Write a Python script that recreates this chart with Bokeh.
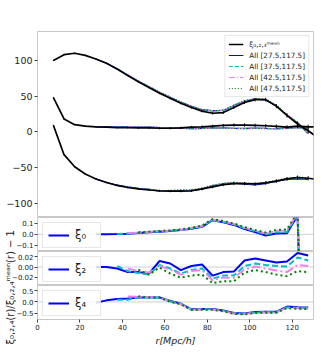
import math
from bokeh.plotting import figure
from bokeh.models import (Range1d, FixedTicker, CustomJSTickFormatter, Legend, LegendItem,
                          Span, Div)
from bokeh.layouts import column
from bokeh.embed import file_html
from bokeh.resources import INLINE

nan = float("nan")

# ---------------- data ----------------
r_mean = [7.5, 12.5, 17.5, 22.5, 27.5, 32.5, 37.5, 42.5, 47.5, 52.5, 57.5, 62.5, 67.5,
          72.5, 77.5, 82.5, 87.5, 92.5, 97.5, 102.5, 107.5, 112.5, 117.5, 122.5, 127.5, 132.5]
xi0_mean = [100, 108, 110, 107, 102, 96, 88, 79, 70, 62, 54, 47, 40, 34, 29, 26, 27, 34,
            41, 45, 45, 36, 23, 11, 1.5, -9]
xi2_mean = [9, -32, -49, -59, -66, -71, -75, -78, -80, -81.5, -82.5, -83, -83, -82.5, -80,
            -77, -74, -72.5, -72.5, -73, -71.5, -69, -66, -64, -65, -67]
xi4_mean = [48, 18, 10, 8, 7, 6.5, 6, 6, 5.5, 5.5, 5, 5, 5.5, 6.5, 7, 8, 9, 9.5, 9.5, 9,
            8.5, 7.5, 6.5, 8, 7, 7]
xi0_err = [0.8, 0.8, 0.9, 0.9, 1.0, 1.0, 1.1, 1.1, 1.2, 1.2, 1.3, 1.4, 1.5, 1.6, 1.7, 1.8,
           1.9, 2.0, 2.2, 2.4, 2.6, 2.8, 3.0, 3.2, 3.4, 3.6]
xi2_err = [0.8, 0.8, 0.9, 0.9, 1.0, 1.0, 1.1, 1.2, 1.3, 1.4, 1.5, 1.6, 1.7, 1.8, 1.9, 2.0,
           2.1, 2.2, 2.3, 2.4, 2.5, 2.6, 2.7, 2.8, 2.9, 3.0]
xi4_err = [0.8, 0.8, 0.9, 0.9, 1.0, 1.0, 1.1, 1.2, 1.3, 1.4, 1.5, 1.6, 1.7, 1.8, 1.9, 2.0,
           2.1, 2.2, 2.3, 2.4, 2.5, 2.6, 2.7, 2.8, 2.9, 3.0]

r_fit = [27.5, 32.5, 37.5, 42.5, 47.5, 52.5, 57.5, 62.5, 67.5, 72.5, 77.5, 82.5, 87.5,
         92.5, 97.5, 102.5, 107.5, 112.5, 117.5, 122.5, 127.5]

series_labels = ["All [27.5,117.5]", "All [37.5,117.5]", "All [42.5,117.5]", "All [47.5,117.5]"]

rat0_a = [0.0, 0.0, 0.002, 0.006, 0.012, 0.018, 0.024, 0.030, 0.038, 0.050, 0.068, 0.128,
          0.108, 0.085, 0.048, 0.020, -0.010, 0.008, 0.010, 0.17, -3.0]
rat0_b = [nan, nan, 0.004, 0.008, 0.014, 0.020, 0.026, 0.032, 0.040, 0.053, 0.072, 0.131,
          0.112, 0.090, 0.055, 0.028, 0.000, 0.018, 0.022, 0.18, -3.0]
rat0_c = [nan, nan, nan, 0.012, 0.016, 0.022, 0.028, 0.034, 0.042, 0.056, 0.076, 0.134,
          0.116, 0.094, 0.060, 0.034, 0.008, 0.030, 0.035, 0.19, -3.0]
rat0_d = [nan, nan, nan, nan, 0.018, 0.024, 0.030, 0.036, 0.044, 0.059, 0.080, 0.138,
          0.120, 0.098, 0.065, 0.040, 0.016, 0.040, 0.045, 0.20, -3.0]

rat2_a = [0.0, 0.0, -0.003, -0.010, -0.010, -0.013, 0.012, 0.007, -0.006, 0.002, 0.005,
          -0.017, -0.010, -0.009, 0.013, 0.017, 0.013, 0.009, 0.011, 0.028, 0.023]
rat2_b = [nan, nan, 0.002, -0.008, -0.012, -0.015, 0.004, -0.003, -0.013, -0.006, -0.003,
          -0.023, -0.017, -0.017, 0.002, 0.007, 0.004, 0.002, 0.001, 0.019, 0.013]
rat2_c = [nan, nan, nan, -0.003, -0.008, -0.011, 0.002, -0.005, -0.015, -0.008, -0.006,
          -0.026, -0.021, -0.021, -0.005, 0.001, -0.003, -0.007, -0.010, 0.004, 0.002]
rat2_d = [nan, nan, nan, nan, -0.005, -0.015, -0.001, -0.013, -0.021, -0.017, -0.015,
          -0.032, -0.028, -0.028, -0.011, -0.006, -0.010, -0.015, -0.018, -0.008, -0.010]

rat4_a = [-0.03, 0.07, 0.13, 0.15, 0.19, 0.19, 0.20, 0.04, -0.07, -0.32, -0.31, -0.31,
          -0.37, -0.48, -0.50, -0.44, -0.43, -0.43, -0.20, -0.23, -0.24]
rat4_b = [nan, nan, 0.10, 0.10, 0.20, 0.17, 0.18, 0.03, -0.08, -0.33, -0.32, -0.32,
          -0.39, -0.50, -0.52, -0.46, -0.45, -0.45, -0.23, -0.26, -0.27]
rat4_c = [nan, nan, nan, 0.24, 0.22, 0.19, 0.19, 0.02, -0.09, -0.34, -0.33, -0.33,
          -0.40, -0.51, -0.53, -0.47, -0.46, -0.46, -0.25, -0.28, -0.29]
rat4_d = [nan, nan, nan, nan, 0.25, 0.20, 0.19, 0.01, -0.10, -0.35, -0.34, -0.34,
          -0.41, -0.52, -0.54, -0.48, -0.47, -0.47, -0.27, -0.30, -0.31]

main_yticks = [-100, -50, 0, 50, 100]
xi0_yticks = [-0.1, 0.0, 0.1]
xi2_yticks = [-0.02, 0.0, 0.02]
xi4_yticks = [-0.5, 0.0, 0.5]
x_ticks = [0, 20, 40, 60, 80, 100, 120]

ylabel_text = "\u03be\u2080,\u2082,\u2084(r)/\u03be\u2080,\u2082,\u2084\u1d50\u1d49\u1d43\u207f(r) \u2212 1"

# ---------------- styling ----------------
FONT = "DejaVu Sans"
COLORS = ["blue", "#00bfbf", "violet", "green"]
DASH_MAIN = ["solid", "4 2", "6 2 1 2", "1 2"]
DASH_RAT = ["solid", "6 3", "9 3 2 3", "2 3"]
FRAME_W = 276
LEFT = 37
RIGHT = 13
OUTLINE = "#c8c8c8"

x_range = Range1d(0, 130)


def fmt(nd):
    return CustomJSTickFormatter(
        code="return (tick < 0 ? '\u2212' : '') + Math.abs(tick).toFixed(%d);" % nd)


def style_y(p, ticks, nd, fs, tick_out=3, standoff=2):
    ax = p.yaxis[0]
    ax.ticker = FixedTicker(ticks=ticks)
    ax.formatter = fmt(nd)
    ax.major_label_text_font = FONT
    ax.major_label_text_font_size = fs
    ax.major_label_text_color = "#222222"
    ax.axis_line_color = None
    ax.major_tick_out = tick_out
    ax.major_tick_in = 0
    ax.major_tick_line_color = "#444444"
    ax.minor_tick_line_color = None
    ax.major_label_standoff = standoff


def base_fig(h, yr, left, top=0, xaxis=False):
    p = figure(frame_width=FRAME_W, frame_height=h, x_range=x_range, y_range=yr,
               toolbar_location=None, output_backend="svg",
               min_border_left=left, min_border_right=RIGHT,
               min_border_top=top, min_border_bottom=0,
               x_axis_location="below" if xaxis else None)
    p.xgrid.visible = False
    p.ygrid.visible = False
    p.outline_line_color = OUTLINE
    p.outline_line_width = 1
    p.background_fill_color = "white"
    p.border_fill_color = None
    p.border_fill_alpha = 0
    return p


# ---------------- main panel ----------------
main = base_fig(186, Range1d(-120, 140.5), LEFT, top=31)
style_y(main, main_yticks, 0, "9.5px")

mean_sets = [xi0_mean, xi2_mean, xi4_mean]
err_sets = [xi0_err, xi2_err, xi4_err]
rat_sets = [[rat0_a, rat0_b, rat0_c, rat0_d],
            [rat2_a, rat2_b, rat2_c, rat2_d],
            [rat4_a, rat4_b, rat4_c, rat4_d]]
i0 = r_mean.index(r_fit[0])
i1 = r_mean.index(r_fit[-1]) + 1

model_renderers = [None] * 4
for mean, rats in zip(mean_sets, rat_sets):
    for k, rat in enumerate(rats):
        model = [m * (1 + q) for m, q in zip(mean[i0:i1], rat)]
        rr = main.line(r_fit, model, line_color=COLORS[k], line_width=1.2,
                       line_dash=DASH_MAIN[k])
        if model_renderers[k] is None:
            model_renderers[k] = rr

mean_renderer = None
for mean, err in zip(mean_sets, err_sets):
    rr = main.line(r_mean, mean, line_color="black", line_width=1.7)
    main.segment(r_mean, [m - e for m, e in zip(mean, err)],
                 r_mean, [m + e for m, e in zip(mean, err)],
                 line_color="black", line_width=1)
    if mean_renderer is None:
        mean_renderer = rr

items = [LegendItem(label="\u03be\u2080,\u2082,\u2084\u1d50\u1d49\u1d43\u207f",
                    renderers=[mean_renderer])]
for k in range(4):
    items.append(LegendItem(label=series_labels[k], renderers=[model_renderers[k]]))
leg = Legend(items=items, location="top_right", label_text_font=FONT,
             label_text_font_size="7.2px", label_text_color="#222222",
             glyph_width=15, glyph_height=10, label_height=10, spacing=1,
             padding=3, margin=4, label_standoff=6,
             border_line_color="#d0d0d0", background_fill_alpha=0.85)
main.add_layout(leg)

# ---------------- ratio panels ----------------
panel_ranges = [Range1d(-0.155, 0.152), Range1d(-0.0366, 0.0308), Range1d(-0.767, 0.72)]
panel_ticks = [xi0_yticks, xi2_yticks, xi4_yticks]
panel_nd = [1, 2, 1]
panel_names = ["\u03be\u2080", "\u03be\u2082", "\u03be\u2084"]

panels = []
for j in range(3):
    p = base_fig(34, panel_ranges[j], LEFT, xaxis=(j == 2))
    style_y(p, panel_ticks[j], panel_nd[j], "7px", tick_out=3, standoff=1)
    p.add_layout(Span(location=0, dimension="width", line_color="#d0d0d0",
                      line_width=1, level="underlay"))
    first = None
    for k, rat in enumerate(rat_sets[j]):
        rr = p.line(r_fit, rat, line_color=COLORS[k], line_width=2, line_dash=DASH_RAT[k])
        if first is None:
            first = rr
    lg = Legend(items=[LegendItem(label=panel_names[j], renderers=[first])],
                location="top_left", label_text_font=FONT, label_text_font_size="11.5px",
                label_text_color="#222222", glyph_width=21, glyph_height=12,
                label_height=12, padding=5, margin=5, label_standoff=6,
                border_line_color="#d0d0d0", background_fill_alpha=0.85)
    p.add_layout(lg)
    panels.append(p)

p4 = panels[2]
xa = p4.xaxis[0]
xa.ticker = FixedTicker(ticks=x_ticks)
xa.major_label_text_font = FONT
xa.major_label_text_font_size = "7px"
xa.major_label_text_color = "#222222"
xa.axis_line_color = None
xa.major_tick_out = 3
xa.major_tick_in = 0
xa.major_tick_line_color = "#444444"
xa.minor_tick_line_color = None
xa.major_label_standoff = 1
xa.axis_label = "r[Mpc/h]"
xa.axis_label_text_font = FONT
xa.axis_label_text_font_style = "italic"
xa.axis_label_text_font_size = "9.5px"
xa.axis_label_text_color = "#222222"
xa.axis_label_standoff = 2

# ---------------- shared y label (positioned text) ----------------
label_div = Div(text=ylabel_text,
                styles={"position": "absolute", "left": "0px", "top": "225px",
                        "writing-mode": "vertical-rl", "transform": "rotate(180deg)",
                        "font-family": FONT, "font-size": "10px", "color": "#222222",
                        "white-space": "nowrap", "line-height": "12px", "z-index": "5"})

layout = column(main, *panels, label_div, spacing=0)

open("out.html", "w").write(file_html(layout, INLINE))
